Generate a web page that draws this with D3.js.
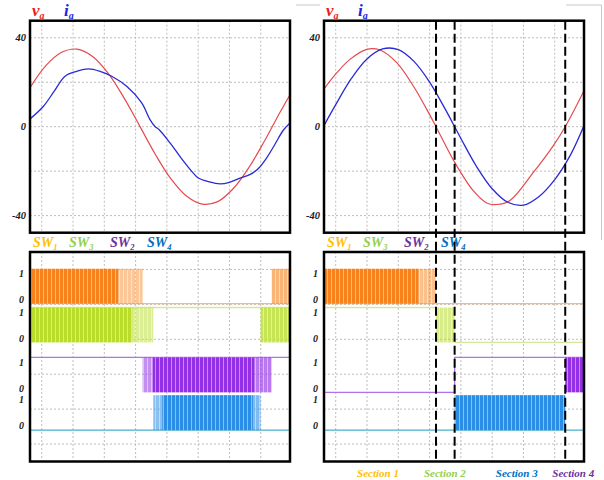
<!DOCTYPE html>
<html>
<head>
<meta charset="utf-8">
<script src="https://cdn.jsdelivr.net/npm/d3@7"></script>
<style>
body { margin: 0; background: #fff; }
svg text { font-family: "Liberation Serif", "Times New Roman", serif; font-weight: bold; font-style: italic; }
</style>
</head>
<body>
<svg id="chart" width="604" height="480"></svg>
<script>
// time in ms, 0 = first vertical grid line
var tGrid = [0, 2, 4, 6, 8, 10, 12, 14];
var vGrid = [-40, -20, 0, 20, 40];
var vTickLabels = [40, 0, -40];
var swGrid = [0, 1, 2, 3, 4, 5];

// left panel: voltage / current
var tVaA = [-0.75, 0.25, 1.25, 2.25, 3.25, 4.25, 5.25, 6.25, 7.25, 8.25, 9.25, 10.25, 11.25, 12.25, 13.25, 14.25, 15.25, 15.87];
var vaA = [17.6, 27.4, 33.4, 34.9, 31.6, 24.0, 13.1, 0.5, -12.3, -23.4, -31.2, -34.8, -33.7, -27.8, -18.3, -6.3, 6.7, 14.4];
var tIaA = [-0.75, 0.1, 0.8, 1.49, 2.24, 2.98, 3.73, 4.47, 5.43, 6.39, 6.92, 7.24, 7.51, 8.2, 8.9, 9.69, 10.01, 10.7, 11.39, 12.0, 12.67, 13.3, 13.85, 14.38, 14.9, 15.44, 15.87];
var iaA = [3.5, 9.1, 16.0, 22.7, 24.9, 26.0, 24.9, 22.7, 18.2, 10.7, 3.2, 0.1, -1.4, -7.3, -14.0, -20.9, -23.1, -24.8, -25.7, -25.0, -23.1, -21.6, -18.8, -14.0, -8.0, -1.6, 1.7];

// right panel: voltage / current
var tVaB = [-0.75, 0.06, 0.91, 1.98, 2.83, 3.9, 4.96, 5.81, 6.41, 7.6, 8.79, 9.65, 10.29, 11.14, 12.63, 13.9, 14.67, 15.87];
var vaB = [17.0, 24.2, 30.3, 34.8, 34.5, 28.8, 18.3, 7.9, 0, -16.0, -28.8, -34.3, -35.0, -33.2, -20.6, -8.6, 0, 16.2];
var tIaB = [-0.75, 0, 1, 2, 3, 4, 5, 6, 7, 8, 9, 10, 11, 12, 13, 14, 15, 15.87];
var iaB = [0.5, 9.9, 21.7, 30.5, 35.0, 34.7, 29.4, 20.1, 7.9, -5.3, -17.9, -27.9, -34.0, -35.3, -31.4, -23.8, -12.8, 0.5];

// switches, top to bottom
var swNames = ["SW", "SW", "SW", "SW"];
var swSubs = ["1", "3", "2", "4"];
var swZero = [4.02, 2.91, 1.48, 0.40];

// idle logic level of each switch: [t, state] steps, null = gap
var traceA = [
  [[-0.75, 0], [15.87, 0]],
  [[-0.75, 1], [15.87, 1]],
  [[-0.75, 1], [15.87, 1]],
  [[-0.75, 0], [15.87, 0]]
];
var traceB = [
  [[-0.75, 0], [15.87, 0]],
  [[-0.75, 1], [6.41, 1], null, [7.60, 0], [15.87, 0]],
  [[-0.75, 0], [7.60, 1], [15.87, 1]],
  [[-0.75, 0], [15.87, 0]]
];

// switching intervals: [switch, t0, t1, density]
var pwmA = [
  [0, -0.75, 4.9, 1], [0, 4.9, 6.45, 0.45], [0, 14.7, 15.87, 0.6],
  [1, -0.75, 5.8, 1], [1, 5.8, 7.13, 0.5], [1, 13.99, 15.87, 0.8],
  [2, 6.45, 7.1, 0.55], [2, 7.1, 13.6, 1], [2, 13.6, 14.7, 0.65],
  [3, 7.13, 7.7, 0.55], [3, 7.7, 13.5, 1], [3, 13.5, 13.99, 0.6]
];
var pwmB = [
  [0, -0.75, 5.3, 1], [0, 5.3, 6.41, 0.5],
  [1, 6.41, 7.60, 0.55],
  [2, 14.67, 15.87, 1],
  [3, 7.60, 14.67, 1]
];

var sectionBounds = [6.41, 7.60, 14.67];
var sectionNames = ["Section 1", "Section 2", "Section 3", "Section 4"];
var sectionAt = [2.7, 6.98, 11.57, 15.18];

// styles
var swText = ["#FFC000", "#92D050", "#7030A0", "#0070C0"];
var swFill = ["#F7821B", "#B9DD2A", "#9330E6", "#2A8DE6"];
var swLine = ["#F4B88C", "#D2E89A", "#B271E6", "#4AAEC8"];
var redLine = "#E34B4F", blueLine = "#2A2AD6";

var svg = d3.select("#chart");
var defs = svg.append("defs");

swFill.forEach(function(c, i) {
  var p = defs.append("pattern")
      .attr("id", "pw" + i)
      .attr("width", 4)
      .attr("height", 10)
      .attr("patternUnits", "userSpaceOnUse");
  p.append("rect").attr("width", 4).attr("height", 10).attr("fill", c);
  p.append("rect").attr("x", 3).attr("width", 0.9).attr("height", 10)
      .attr("fill", "#fff").attr("opacity", 0.5);
});

// faint frame remnants at the top right
svg.append("path")
    .attr("d", "M296,5H320M566,5H601.5V240")
    .attr("fill", "none")
    .attr("stroke", "#c8c8c8")
    .attr("stroke-width", 1);

var topY = [20.7, 232.7], botY = [252, 461.5];

function grid(g, x, y, xs, ys, x0, x1, y0, y1) {
  g.selectAll(".gx").data(xs).enter().append("line")
      .attr("x1", function(d) { return x(d); })
      .attr("x2", function(d) { return x(d); })
      .attr("y1", y0).attr("y2", y1)
      .attr("stroke", "#bdbdbd").attr("stroke-width", 1)
      .attr("stroke-dasharray", "2,2");
  g.selectAll(".gy").data(ys).enter().append("line")
      .attr("x1", x0).attr("x2", x1)
      .attr("y1", function(d) { return y(d); })
      .attr("y2", function(d) { return y(d); })
      .attr("stroke", "#bdbdbd").attr("stroke-width", 1)
      .attr("stroke-dasharray", "2,2");
}

function drawPanel(id, x0, x1, tVa, va, tIa, ia, trace, pwm) {
  var x = d3.scaleLinear().domain([-0.75, 15.87]).range([x0, x1]);
  var yv = d3.scaleLinear().domain([-47.7, 47.7]).range([topY[1], topY[0]]);
  var ys = d3.scaleLinear().domain([-0.5, 5.5]).range([botY[1], botY[0]]);

  defs.append("clipPath").attr("id", "ct" + id).append("rect")
      .attr("x", x0).attr("y", topY[0]).attr("width", x1 - x0).attr("height", topY[1] - topY[0]);
  defs.append("clipPath").attr("id", "cb" + id).append("rect")
      .attr("x", x0).attr("y", botY[0]).attr("width", x1 - x0).attr("height", botY[1] - botY[0]);

  // ---- top: va / ia ----
  var gt = svg.append("g").attr("clip-path", "url(#ct" + id + ")");
  grid(gt, x, yv, tGrid, vGrid, x0, x1, topY[0], topY[1]);

  var line = d3.line().curve(d3.curveCatmullRom)
      .x(function(d) { return x(d[0]); })
      .y(function(d) { return yv(d[1]); });
  gt.append("path")
      .attr("d", line(d3.zip(tVa, va)))
      .attr("fill", "none").attr("stroke", redLine).attr("stroke-width", 1.2);
  gt.append("path")
      .attr("d", line(d3.zip(tIa, ia)))
      .attr("fill", "none").attr("stroke", blueLine).attr("stroke-width", 1.3);

  svg.append("rect")
      .attr("x", x0).attr("y", topY[0]).attr("width", x1 - x0).attr("height", topY[1] - topY[0])
      .attr("fill", "none").attr("stroke", "#000").attr("stroke-width", 2.5);

  svg.selectAll(".vt" + id).data(vTickLabels).enter().append("text")
      .attr("x", x0 - 4)
      .attr("y", function(d) { return yv(d); })
      .attr("dy", "0.35em")
      .attr("text-anchor", "end")
      .attr("font-size", 10.5)
      .attr("fill", "#222")
      .text(function(d) { return d; });

  var lv = svg.append("text").attr("x", x0 + 2).attr("y", 16).attr("font-size", 17).attr("fill", "#EE1C1C");
  lv.append("tspan").text("v");
  lv.append("tspan").attr("font-size", 10).attr("dy", 3).text("a");
  var li = svg.append("text").attr("x", x0 + 34).attr("y", 16).attr("font-size", 17).attr("fill", "#2424E0");
  li.append("tspan").text("i");
  li.append("tspan").attr("font-size", 10).attr("dy", 3).text("a");

  // ---- bottom: switch signals ----
  var gb = svg.append("g").attr("clip-path", "url(#cb" + id + ")");
  grid(gb, x, ys, tGrid, swGrid, x0, x1, botY[0], botY[1]);

  trace.forEach(function(pts, i) {
    var l = d3.line().curve(d3.curveStepAfter)
        .defined(function(d) { return d; })
        .x(function(d) { return x(d[0]); })
        .y(function(d) { return ys(swZero[i] + d[1]); });
    gb.append("path")
        .attr("d", l(pts))
        .attr("fill", "none").attr("stroke", swLine[i]).attr("stroke-width", 1.3);
  });

  gb.selectAll(".pw").data(pwm).enter().append("rect")
      .attr("x", function(d) { return x(d[1]); })
      .attr("width", function(d) { return x(d[2]) - x(d[1]); })
      .attr("y", function(d) { return ys(swZero[d[0]] + 1); })
      .attr("height", function(d) { return ys(swZero[d[0]]) - ys(swZero[d[0]] + 1); })
      .attr("fill", function(d) { return "url(#pw" + d[0] + ")"; })
      .attr("opacity", function(d) { return d[3]; });

  svg.append("rect")
      .attr("x", x0).attr("y", botY[0]).attr("width", x1 - x0).attr("height", botY[1] - botY[0])
      .attr("fill", "none").attr("stroke", "#000").attr("stroke-width", 2.5);

  swZero.forEach(function(z, i) {
    svg.append("text")
        .attr("x", x0 - 6).attr("y", ys(z + 1) + 5).attr("dy", "0.33em")
        .attr("text-anchor", "end").attr("font-size", 10).attr("fill", "#222")
        .text("1");
    svg.append("text")
        .attr("x", x0 - 6).attr("y", ys(z) - 4).attr("dy", "0.33em")
        .attr("text-anchor", "end").attr("font-size", 10).attr("fill", "#222")
        .text("0");
  });

  var legX = [3, 39, 80, 117];
  swNames.forEach(function(n, i) {
    var t = svg.append("text")
        .attr("x", x0 + legX[i]).attr("y", 247)
        .attr("font-size", 14).attr("fill", swText[i]);
    t.append("tspan").text(n);
    t.append("tspan").attr("font-size", 8.5).attr("dy", 3).text(swSubs[i]);
  });

  return x;
}

drawPanel("A", 30, 290, tVaA, vaA, tIaA, iaA, traceA, pwmA);
var xB = drawPanel("B", 324, 584, tVaB, vaB, tIaB, iaB, traceB, pwmB);

svg.selectAll(".sec").data(sectionBounds).enter().append("line")
    .attr("x1", function(d) { return xB(d); })
    .attr("x2", function(d) { return xB(d); })
    .attr("y1", topY[0]).attr("y2", botY[1])
    .attr("stroke", "#000").attr("stroke-width", 2)
    .attr("stroke-dasharray", "9,4");

svg.selectAll(".secl").data(sectionNames).enter().append("text")
    .attr("x", function(d, i) { return xB(sectionAt[i]); })
    .attr("y", 477)
    .attr("text-anchor", "middle")
    .attr("font-size", 11)
    .attr("fill", function(d, i) { return swText[[0, 1, 3, 2][i]]; })
    .text(function(d) { return d; });
</script>
</body>
</html>
